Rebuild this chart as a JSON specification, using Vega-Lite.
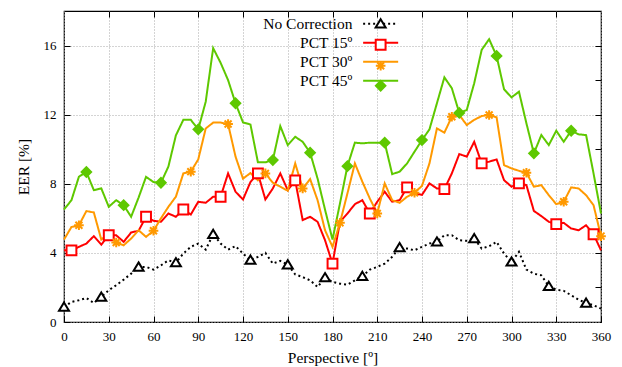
{
  "$schema": "https://vega.github.io/schema/vega-lite/v6.json",
  "width": 537,
  "height": 311,
  "autosize": "none",
  "padding": {"left": 64, "top": 11, "right": 21, "bottom": 45},
  "background": "white",
  "config": {
    "font": "Liberation Serif",
    "view": {"stroke": "#000000", "strokeWidth": 1.2},
    "axis": {"labelFont": "Liberation Serif", "titleFont": "Liberation Serif", "labelFontSize": 13, "titleFontSize": 15.5, "titleFontWeight": "normal", "labelColor": "#000000", "titleColor": "#000000", "tickColor": "#000000", "domain": false, "labelOverlap": false}
  },
  "data": {
    "values": [
      {"a": 0, "No Correction": 0.87, "PCT 15º": 4.15, "PCT 30º": 4.77, "PCT 45º": 6.51},
      {"a": 5, "No Correction": 1.16, "PCT 15º": 4.15, "PCT 30º": 5.5, "PCT 45º": 7.05},
      {"a": 10, "No Correction": 1.26, "PCT 15º": 4.35, "PCT 30º": 5.6, "PCT 45º": 8.41},
      {"a": 15, "No Correction": 1.39, "PCT 15º": 4.54, "PCT 30º": 6.42, "PCT 45º": 8.68},
      {"a": 20, "No Correction": 1.1, "PCT 15º": 4.97, "PCT 30º": 6.34, "PCT 45º": 7.63},
      {"a": 25, "No Correction": 1.45, "PCT 15º": 4.48, "PCT 30º": 4.77, "PCT 45º": 7.73},
      {"a": 30, "No Correction": 1.84, "PCT 15º": 5.02, "PCT 30º": 5.12, "PCT 45º": 6.67},
      {"a": 35, "No Correction": 2.13, "PCT 15º": 5.02, "PCT 30º": 4.6, "PCT 45º": 7.05},
      {"a": 40, "No Correction": 2.45, "PCT 15º": 4.64, "PCT 30º": 4.44, "PCT 45º": 6.76},
      {"a": 45, "No Correction": 2.8, "PCT 15º": 5.18, "PCT 30º": 4.83, "PCT 45º": 6.09},
      {"a": 50, "No Correction": 3.19, "PCT 15º": 5.28, "PCT 30º": 5.31, "PCT 45º": 7.2},
      {"a": 55, "No Correction": 3.19, "PCT 15º": 6.09, "PCT 30º": 4.93, "PCT 45º": 8.4},
      {"a": 60, "No Correction": 3.03, "PCT 15º": 5.86, "PCT 30º": 5.28, "PCT 45º": 8.1},
      {"a": 65, "No Correction": 3.28, "PCT 15º": 5.8, "PCT 30º": 6.0, "PCT 45º": 8.06},
      {"a": 70, "No Correction": 3.57, "PCT 15º": 6.28, "PCT 30º": 6.67, "PCT 45º": 9.0},
      {"a": 75, "No Correction": 3.44, "PCT 15º": 6.09, "PCT 30º": 7.25, "PCT 45º": 10.8},
      {"a": 80, "No Correction": 3.96, "PCT 15º": 6.51, "PCT 30º": 8.6, "PCT 45º": 11.7},
      {"a": 85, "No Correction": 4.35, "PCT 15º": 6.22, "PCT 30º": 8.7, "PCT 45º": 11.7},
      {"a": 90, "No Correction": 4.54, "PCT 15º": 6.96, "PCT 30º": 9.41, "PCT 45º": 11.15},
      {"a": 95, "No Correction": 4.19, "PCT 15º": 6.9, "PCT 30º": 11.2, "PCT 45º": 12.75},
      {"a": 100, "No Correction": 5.08, "PCT 15º": 7.25, "PCT 30º": 11.54, "PCT 45º": 15.85},
      {"a": 105, "No Correction": 4.54, "PCT 15º": 7.25, "PCT 30º": 11.54, "PCT 45º": 15.0},
      {"a": 110, "No Correction": 4.19, "PCT 15º": 8.6, "PCT 30º": 11.46, "PCT 45º": 14.0},
      {"a": 115, "No Correction": 4.39, "PCT 15º": 7.54, "PCT 30º": 9.57, "PCT 45º": 12.66},
      {"a": 120, "No Correction": 3.96, "PCT 15º": 7.09, "PCT 30º": 8.3, "PCT 45º": 11.55},
      {"a": 125, "No Correction": 3.59, "PCT 15º": 8.1, "PCT 30º": 8.62, "PCT 45º": 11.43},
      {"a": 130, "No Correction": 3.77, "PCT 15º": 8.6, "PCT 30º": 8.2, "PCT 45º": 9.24},
      {"a": 135, "No Correction": 4.0, "PCT 15º": 7.09, "PCT 30º": 8.6, "PCT 45º": 9.24},
      {"a": 140, "No Correction": 3.38, "PCT 15º": 7.73, "PCT 30º": 8.06, "PCT 45º": 9.37},
      {"a": 145, "No Correction": 3.54, "PCT 15º": 8.6, "PCT 30º": 7.83, "PCT 45º": 11.34},
      {"a": 150, "No Correction": 3.32, "PCT 15º": 7.63, "PCT 30º": 7.6, "PCT 45º": 10.24},
      {"a": 155, "No Correction": 2.76, "PCT 15º": 8.2, "PCT 30º": 9.18, "PCT 45º": 10.72},
      {"a": 160, "No Correction": 2.6, "PCT 15º": 5.9, "PCT 30º": 7.73, "PCT 45º": 10.43},
      {"a": 165, "No Correction": 2.41, "PCT 15º": 6.09, "PCT 30º": 8.27, "PCT 45º": 9.8},
      {"a": 170, "No Correction": 2.03, "PCT 15º": 5.8, "PCT 30º": 7.05, "PCT 45º": 8.3},
      {"a": 175, "No Correction": 2.57, "PCT 15º": 4.73, "PCT 30º": 5.31, "PCT 45º": 6.5},
      {"a": 180, "No Correction": 2.32, "PCT 15º": 3.38, "PCT 30º": 4.35, "PCT 45º": 4.77},
      {"a": 185, "No Correction": 2.22, "PCT 15º": 5.8, "PCT 30º": 5.74, "PCT 45º": 6.86},
      {"a": 190, "No Correction": 2.16, "PCT 15º": 6.28, "PCT 30º": 7.44, "PCT 45º": 9.02},
      {"a": 195, "No Correction": 2.41, "PCT 15º": 6.82, "PCT 30º": 9.18, "PCT 45º": 10.38},
      {"a": 200, "No Correction": 2.65, "PCT 15º": 7.05, "PCT 30º": 8.12, "PCT 45º": 10.34},
      {"a": 205, "No Correction": 3.03, "PCT 15º": 6.28, "PCT 30º": 7.15, "PCT 45º": 10.38},
      {"a": 210, "No Correction": 3.19, "PCT 15º": 6.96, "PCT 30º": 6.28, "PCT 45º": 10.38},
      {"a": 215, "No Correction": 3.38, "PCT 15º": 7.54, "PCT 30º": 8.02, "PCT 45º": 10.38},
      {"a": 220, "No Correction": 3.77, "PCT 15º": 6.96, "PCT 30º": 7.05, "PCT 45º": 8.56},
      {"a": 225, "No Correction": 4.31, "PCT 15º": 7.05, "PCT 30º": 6.9, "PCT 45º": 8.7},
      {"a": 230, "No Correction": 4.25, "PCT 15º": 7.79, "PCT 30º": 7.25, "PCT 45º": 9.18},
      {"a": 235, "No Correction": 4.15, "PCT 15º": 7.44, "PCT 30º": 7.48, "PCT 45º": 9.86},
      {"a": 240, "No Correction": 4.35, "PCT 15º": 7.36, "PCT 30º": 7.88, "PCT 45º": 10.53},
      {"a": 245, "No Correction": 4.54, "PCT 15º": 8.02, "PCT 30º": 9.18, "PCT 45º": 11.15},
      {"a": 250, "No Correction": 4.64, "PCT 15º": 7.73, "PCT 30º": 11.2, "PCT 45º": 12.66},
      {"a": 255, "No Correction": 5.02, "PCT 15º": 7.69, "PCT 30º": 10.96, "PCT 45º": 14.16},
      {"a": 260, "No Correction": 5.02, "PCT 15º": 8.6, "PCT 30º": 11.88, "PCT 45º": 13.53},
      {"a": 265, "No Correction": 4.73, "PCT 15º": 9.72, "PCT 30º": 11.98, "PCT 45º": 12.1},
      {"a": 270, "No Correction": 4.7, "PCT 15º": 9.57, "PCT 30º": 11.4, "PCT 45º": 12.27},
      {"a": 275, "No Correction": 4.83, "PCT 15º": 10.43, "PCT 30º": 11.7, "PCT 45º": 13.82},
      {"a": 280, "No Correction": 4.25, "PCT 15º": 9.18, "PCT 30º": 11.92, "PCT 45º": 15.75},
      {"a": 285, "No Correction": 4.39, "PCT 15º": 9.28, "PCT 30º": 11.98, "PCT 45º": 16.37},
      {"a": 290, "No Correction": 4.64, "PCT 15º": 9.41, "PCT 30º": 11.85, "PCT 45º": 15.4},
      {"a": 295, "No Correction": 3.96, "PCT 15º": 8.21, "PCT 30º": 9.08, "PCT 45º": 13.47},
      {"a": 300, "No Correction": 3.48, "PCT 15º": 7.83, "PCT 30º": 8.89, "PCT 45º": 13.0},
      {"a": 305, "No Correction": 4.06, "PCT 15º": 8.02, "PCT 30º": 8.75, "PCT 45º": 13.33},
      {"a": 310, "No Correction": 3.03, "PCT 15º": 7.92, "PCT 30º": 8.64, "PCT 45º": 11.5},
      {"a": 315, "No Correction": 2.8, "PCT 15º": 6.43, "PCT 30º": 7.83, "PCT 45º": 9.76},
      {"a": 320, "No Correction": 2.7, "PCT 15º": 6.13, "PCT 30º": 7.92, "PCT 45º": 10.82},
      {"a": 325, "No Correction": 2.07, "PCT 15º": 5.8, "PCT 30º": 7.34, "PCT 45º": 10.24},
      {"a": 330, "No Correction": 1.87, "PCT 15º": 5.66, "PCT 30º": 6.82, "PCT 45º": 11.07},
      {"a": 335, "No Correction": 1.8, "PCT 15º": 5.74, "PCT 30º": 6.96, "PCT 45º": 10.43},
      {"a": 340, "No Correction": 1.55, "PCT 15º": 5.41, "PCT 30º": 7.79, "PCT 45º": 11.07},
      {"a": 345, "No Correction": 1.29, "PCT 15º": 5.31, "PCT 30º": 7.73, "PCT 45º": 10.86},
      {"a": 350, "No Correction": 1.1, "PCT 15º": 5.6, "PCT 30º": 7.34, "PCT 45º": 10.82},
      {"a": 355, "No Correction": 0.97, "PCT 15º": 5.08, "PCT 30º": 6.76, "PCT 45º": 8.6},
      {"a": 360, "No Correction": 0.77, "PCT 15º": 4.15, "PCT 30º": 4.97, "PCT 45º": 6.28}
    ]
  },
  "layer": [
    {
      "layer": [
        {
          "transform": [
            {"fold": ["No Correction", "PCT 15º", "PCT 30º", "PCT 45º"], "as": ["series", "eer"]}
          ],
          "mark": {"type": "line", "strokeWidth": 2, "strokeCap": "butt"},
          "encoding": {
            "x": {"field": "a", "type": "quantitative", "scale": {"domain": [0, 360], "nice": false, "zero": false},
              "axis": {"values": [0, 30, 60, 90, 120, 150, 180, 210, 240, 270, 300, 330, 360], "title": "Perspective [º]", "tickSize": -6, "labelPadding": 14, "titlePadding": 7, "grid": true, "gridDash": [1, 2], "gridColor": "#a8a8a8", "labelFlush": false, "labelOverlap": false}},
            "y": {"field": "eer", "type": "quantitative", "scale": {"domain": [0, 18], "nice": false, "zero": false},
              "axis": {"values": [0, 2, 4, 6, 8, 10, 12, 14, 16, 18], "title": "EER [%]", "tickSize": -6, "labelPadding": 14, "titlePadding": 12, "grid": true, "gridDash": [1, 2], "gridColor": "#a8a8a8", "labelOverlap": false, "labelFlush": false, "labelSeparation": -20}},
            "color": {"field": "series", "type": "nominal",
              "scale": {"domain": ["No Correction", "PCT 15º", "PCT 30º", "PCT 45º"], "range": ["#000000", "#ff0000", "#ff9900", "#5ec800"]},
              "legend": {"title": null, "orient": "none", "legendX": 308.9, "legendY": 5, "padding": 0, "labelAlign": "right", "labelOffset": -36, "labelFontSize": 15.5, "labelFont": "Liberation Serif", "labelColor": "#000000", "labelLimit": 300, "symbolType": "M-2.86,0H2.86", "symbolSize": 150, "symbolStrokeWidth": 2}},
            "strokeDash": {"field": "series", "type": "nominal",
              "scale": {"domain": ["No Correction", "PCT 15º", "PCT 30º", "PCT 45º"], "range": [[2, 3], [1, 0], [1, 0], [1, 0]]},
              "legend": {"title": null, "orient": "none", "legendX": 308.9, "legendY": 5, "padding": 0, "labelAlign": "right", "labelOffset": -36, "labelFontSize": 15.5, "labelFont": "Liberation Serif", "labelColor": "#000000", "labelLimit": 300, "symbolType": "M-2.86,0H2.86", "symbolSize": 150, "symbolStrokeWidth": 2}}
          }
        },
        {
          "transform": [
            {"fold": ["No Correction", "PCT 15º", "PCT 30º", "PCT 45º"], "as": ["curve", "val"]},
            {"filter": "(datum.curve === 'No Correction' && datum.a % 25 === 0) || (datum.curve === 'PCT 15º' && datum.a % 25 === 5) || (datum.curve === 'PCT 30º' && datum.a % 25 === 10) || (datum.curve === 'PCT 45º' && datum.a % 25 === 15)"}
          ],
          "mark": {"type": "point", "filled": true, "opacity": 1, "strokeWidth": 2},
          "encoding": {
            "x": {"field": "a", "type": "quantitative"},
            "y": {"field": "val", "type": "quantitative"},
            "shape": {"field": "curve", "type": "nominal",
              "scale": {"range": ["M0,-0.9L1,0.75H-1Z", "square", "M-1,0H1M0,-1V1M-0.72,-0.72L0.72,0.72M-0.72,0.72L0.72,-0.72", "diamond"]},
              "legend": {"title": null, "orient": "none", "legendX": 308.9, "legendY": 5, "padding": 0, "labelOpacity": 0, "labelFontSize": 15.5, "labelFont": "Liberation Serif", "symbolStrokeWidth": 2, "symbolOpacity": 1}},
            "stroke": {"field": "curve", "type": "nominal",
              "scale": {"range": ["#000000", "#ff0000", "#ff9900", "#5ec800"]},
              "legend": {"title": null, "orient": "none", "legendX": 308.9, "legendY": 5, "padding": 0, "labelOpacity": 0, "labelFontSize": 15.5, "labelFont": "Liberation Serif", "symbolStrokeWidth": 2, "symbolOpacity": 1}},
            "fill": {"field": "curve", "type": "nominal",
              "scale": {"range": ["white", "white", "#ff9900", "#5ec800"]},
              "legend": {"title": null, "orient": "none", "legendX": 308.9, "legendY": 5, "padding": 0, "labelOpacity": 0, "labelFontSize": 15.5, "labelFont": "Liberation Serif", "symbolStrokeWidth": 2, "symbolOpacity": 1}},
            "size": {"field": "curve", "type": "nominal",
              "scale": {"range": [100, 90, 90, 150]},
              "legend": {"title": null, "orient": "none", "legendX": 308.9, "legendY": 5, "padding": 0, "labelOpacity": 0, "labelFontSize": 15.5, "labelFont": "Liberation Serif", "symbolStrokeWidth": 2, "symbolOpacity": 1}}
          }
        }
      ]
    },
    {
      "mark": {"type": "point", "opacity": 0},
      "encoding": {
        "x": {"field": "a", "type": "quantitative", "scale": {"domain": [0, 360], "nice": false, "zero": false},
          "axis": {"orient": "top", "values": [30, 60, 90, 120, 150, 180, 210, 240, 270, 300, 330], "labels": false, "title": null, "tickSize": -6, "grid": false}},
        "y": {"field": "PCT 45º", "type": "quantitative", "scale": {"domain": [0, 18], "nice": false, "zero": false},
          "axis": {"orient": "right", "values": [2, 4, 6, 8, 10, 12, 14, 16], "labels": false, "title": null, "tickSize": -6, "grid": false}}
      }
    }
  ],
  "resolve": {"scale": {"x": "independent", "y": "independent"}}
}
